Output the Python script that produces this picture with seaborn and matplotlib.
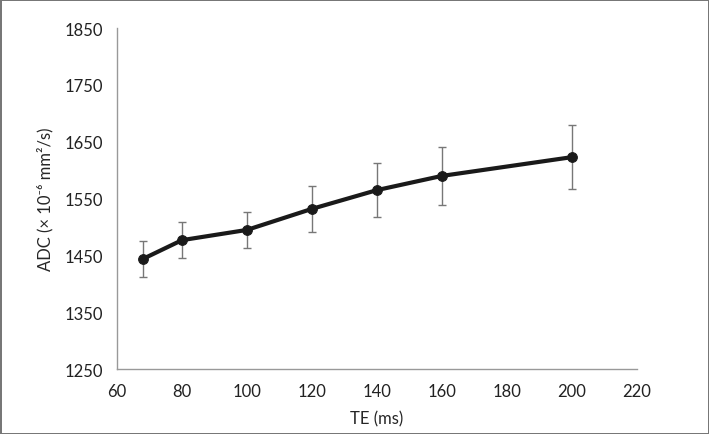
import pandas as pd
import matplotlib.pyplot as plt
import seaborn as sns

te = [68, 80, 100, 120, 140, 160, 200]
adc = [1444, 1477, 1495, 1532, 1565, 1590, 1623]
adc_err = [31, 32, 31, 41, 48, 51, 56]

sns.set_style('white')
plt.rcParams['font.family'] = ['Lato', 'DejaVu Sans']

df = pd.DataFrame({'TE': te, 'ADC': adc, 'err': adc_err})

fig = plt.figure(figsize=(7.09, 4.35), dpi=100, edgecolor='#777777', linewidth=2)
ax = fig.add_axes([0.165, 0.149, 0.733, 0.784])

# error bars first so the line sits on top
ax.errorbar(df['TE'], df['ADC'], yerr=df['err'], fmt='none', ecolor='#777777',
            elinewidth=1, capsize=3, capthick=1, zorder=2)
sns.lineplot(data=df, x='TE', y='ADC', ax=ax, color='#1a1a1a', linewidth=3,
             marker='o', markersize=7, markeredgecolor='#1a1a1a', zorder=3)

ax.set_xlim(60, 220)
ax.set_ylim(1250, 1850)
ax.set_xticks(range(60, 221, 20))
ax.set_yticks(range(1250, 1851, 100))
ax.set_xlabel('TE (ms)', fontsize=12, labelpad=8)
ax.set_ylabel('ADC (× 10⁻⁶ mm²/s)', fontsize=12, labelpad=8)

sns.despine(ax=ax)
for s in ['left', 'bottom']:
    ax.spines[s].set_color('#999999')
    ax.spines[s].set_linewidth(1)
ax.tick_params(axis='both', which='major', direction='out', length=5, width=1,
               color='#999999', labelsize=12, labelcolor='#222222', pad=5)

fig.savefig('out.png', dpi=100, edgecolor=fig.get_edgecolor())
